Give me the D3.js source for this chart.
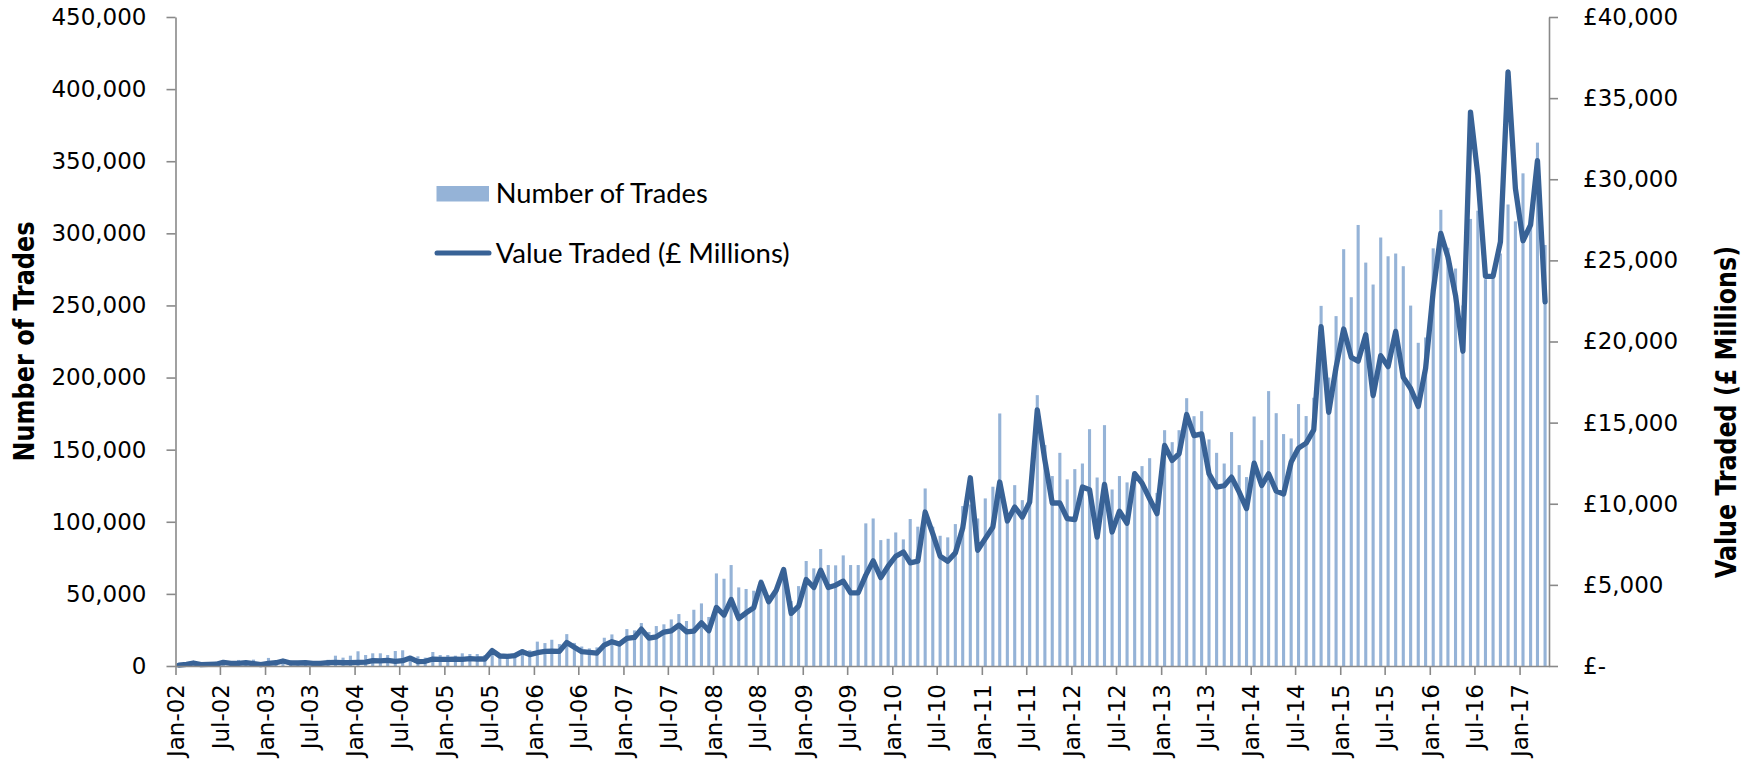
<!DOCTYPE html>
<html><head><meta charset="utf-8">
<script src="https://cdn.jsdelivr.net/npm/d3@7"></script>
<style>body{margin:0;background:#fff}svg{display:block}</style>
</head><body>
<svg id="c" width="1753" height="761"></svg>
<script>
// Monthly series, Jan-02 .. Apr-17
const firstMonth = "2002-01";
const trades = [
1500,1800,2600,2000,2300,2800,3500,2800,4200,3200,4400,2600,
5600,3800,4500,3600,3500,3700,3400,3500,4300,7150,5800,7150,
10200,7600,8800,8800,7600,10400,10900,7000,6700,5800,9700,7600,
7600,7150,8800,8300,8300,7600,11000,7900,8100,8800,11500,10900,
16900,15900,18200,15200,22100,16000,13500,12200,12900,19600,21900,16200,
25600,24700,29800,23600,27700,28900,32300,36000,31200,39000,43400,34000,
64200,60500,70000,54500,53400,52200,60000,49000,53800,66000,45000,55400,
72800,67700,81100,70000,69800,76700,70000,70000,98900,102300,87300,88200,
92600,87800,101900,96600,123100,96600,90300,89200,98400,110900,112000,102300,
116200,124300,175100,100000,125400,115000,118000,187800,153200,131700,147800,129400,
136500,140400,164200,130700,167000,122400,131700,127300,133000,138600,144100,120000,
163500,155200,163500,185700,173200,176700,157100,147800,140400,162200,139300,131000,
173000,156600,190600,175300,160800,157800,181600,173300,186000,249700,200000,242600,
289000,255700,305800,279700,264500,297100,284100,286000,277200,249900,224100,227800,
289600,316300,290000,275600,250000,310000,315700,268200,270300,286000,320000,308300,
341600,307400,362900,291900
];
const valueTraded = [
50,100,185,80,100,110,225,165,165,200,145,80,
165,200,310,185,185,200,165,165,200,225,200,200,
225,245,330,310,350,290,330,490,265,290,430,410,
410,430,410,450,430,430,950,615,595,635,880,700,
820,900,920,900,1450,1150,880,840,800,1290,1500,1350,
1700,1760,2275,1720,1800,2090,2170,2520,2110,2150,2665,2170,
3610,3140,4100,2930,3280,3590,5150,3960,4670,5945,3240,3690,
5330,4840,5900,4840,4980,5230,4510,4510,5600,6480,5450,6150,
6765,7030,6355,6460,9490,8160,6765,6460,6970,8500,11600,7130,
7850,8570,11340,8940,9800,9180,10100,15790,12670,10045,10045,9080,
9020,11030,10865,7950,11190,8260,9540,8800,11850,11275,10310,9390,
13590,12670,13080,15500,14200,14310,11850,11030,11110,11640,10720,9700,
12505,11130,11850,10780,10600,12570,13430,13735,14555,20910,15640,18410,
20770,19020,18780,20420,16670,19130,18450,20620,17790,17100,16000,18350,
23100,26660,25210,22840,19400,34140,30230,24020,24020,26140,36620,29440,
26210,27190,31150,22440
];
const xTickLabels = ["Jan-02","Jul-02","Jan-03","Jul-03","Jan-04","Jul-04","Jan-05","Jul-05",
"Jan-06","Jul-06","Jan-07","Jul-07","Jan-08","Jul-08","Jan-09","Jul-09","Jan-10","Jul-10",
"Jan-11","Jul-11","Jan-12","Jul-12","Jan-13","Jul-13","Jan-14","Jul-14","Jan-15","Jul-15",
"Jan-16","Jul-16","Jan-17"];
const leftTicks = [0,50000,100000,150000,200000,250000,300000,350000,400000,450000];
const rightTicks = [0,5000,10000,15000,20000,25000,30000,35000,40000];
const seriesNames = ["Number of Trades","Value Traded (£ Millions)"];
const leftTitle = "Number of Trades";
const rightTitle = "Value Traded (£ Millions)";

const [fy, fm] = firstMonth.split("-").map(Number);
const dates = trades.map((_, i) => new Date(fy, fm - 1 + i, 15));
const parseTick = d3.timeParse("%b-%y");
const tickDates = xTickLabels.map(parseTick);

const L = 175.5, R = 1549, T = 17, B = 666;
const x = d3.scaleTime().domain([new Date(2002,0,1), new Date(2017,4,1)]).range([L, R]);
const yL = d3.scaleLinear().domain([0,450000]).range([B,T]);
const yR = d3.scaleLinear().domain([0,40000]).range([B,T]);

const svg = d3.select("#c");
const barColor = "#95B3D7", lineColor = "#386296", axisColor = "#898989";
const tickFont = "'DejaVu Sans', Verdana, sans-serif";

// bars
svg.append("g").selectAll("rect").data(trades).join("rect")
  .attr("x", (d,i) => x(dates[i]) - 1.55)
  .attr("width", 3.1)
  .attr("y", d => yL(d))
  .attr("height", d => B - yL(d))
  .attr("fill", barColor);

// line
const line = d3.line().x((d,i) => x(dates[i])).y(d => yR(d));
svg.append("path").datum(valueTraded).attr("d", line)
  .attr("fill","none").attr("stroke", lineColor).attr("stroke-width", 5.3)
  .attr("stroke-linejoin","round").attr("stroke-linecap","round");

function styleAxis(g){
  g.selectAll(".domain").attr("stroke", axisColor).attr("stroke-width", 1.6);
  g.selectAll(".tick line").attr("stroke", axisColor).attr("stroke-width", 1.6);
  g.selectAll("text").attr("font-family", tickFont).attr("font-size", 23).attr("fill", "#000");
}

// left axis
const gL = svg.append("g").attr("transform", `translate(${L},0)`)
  .call(d3.axisLeft(yL).tickValues(leftTicks).tickSize(9).tickSizeOuter(0).tickPadding(20)
    .tickFormat(d3.format(",")));
styleAxis(gL);

// right axis
const gR = svg.append("g").attr("transform", `translate(${R},0)`)
  .call(d3.axisRight(yR).tickValues(rightTicks).tickSize(9).tickSizeOuter(0).tickPadding(25)
    .tickFormat(v => v === 0 ? "£-" : "£" + d3.format(",")(v)));
styleAxis(gR);

// bottom axis
const gB = svg.append("g").attr("transform", `translate(0,${B})`)
  .call(d3.axisBottom(x).tickValues(tickDates).tickSize(9).tickSizeOuter(0)
    .tickFormat((d,i) => xTickLabels[i]));
styleAxis(gB);
gB.selectAll(".tick text")
  .attr("transform","rotate(-90)").attr("text-anchor","end")
  .attr("x", -18).attr("y", 0).attr("dy","0.36em");

// axis titles
const titleFont = "'DejaVu Sans Condensed', 'DejaVu Sans', sans-serif";
svg.append("text").text(leftTitle)
  .attr("transform", `translate(${24 + 0.36*28},341.5) rotate(-90)`)
  .attr("text-anchor","middle").attr("font-family", titleFont).attr("font-stretch","condensed")
  .attr("font-weight","bold").attr("font-size",28)
  .attr("textLength",240).attr("lengthAdjust","spacingAndGlyphs");
svg.append("text").text(rightTitle)
  .attr("transform", `translate(${1725.5 + 0.36*28},412) rotate(-90)`)
  .attr("text-anchor","middle").attr("font-family", titleFont).attr("font-stretch","condensed")
  .attr("font-weight","bold").attr("font-size",28)
  .attr("textLength",332).attr("lengthAdjust","spacingAndGlyphs");

// legend
const lg = svg.append("g");
lg.append("rect").attr("x",436.5).attr("y",186).attr("width",52.5).attr("height",15.5).attr("fill",barColor);
lg.append("text").text(seriesNames[0]).attr("x",495.7).attr("y",202.5)
  .attr("font-family","Lato, 'Open Sans', sans-serif").attr("font-size",27)
  .attr("textLength",212).attr("lengthAdjust","spacingAndGlyphs");
lg.append("line").attr("x1",437).attr("x2",489).attr("y1",253).attr("y2",253)
  .attr("stroke",lineColor).attr("stroke-width",5).attr("stroke-linecap","round");
lg.append("text").text(seriesNames[1]).attr("x",495.7).attr("y",263)
  .attr("font-family","Lato, 'Open Sans', sans-serif").attr("font-size",27)
  .attr("textLength",294).attr("lengthAdjust","spacingAndGlyphs");
</script>
</body></html>
